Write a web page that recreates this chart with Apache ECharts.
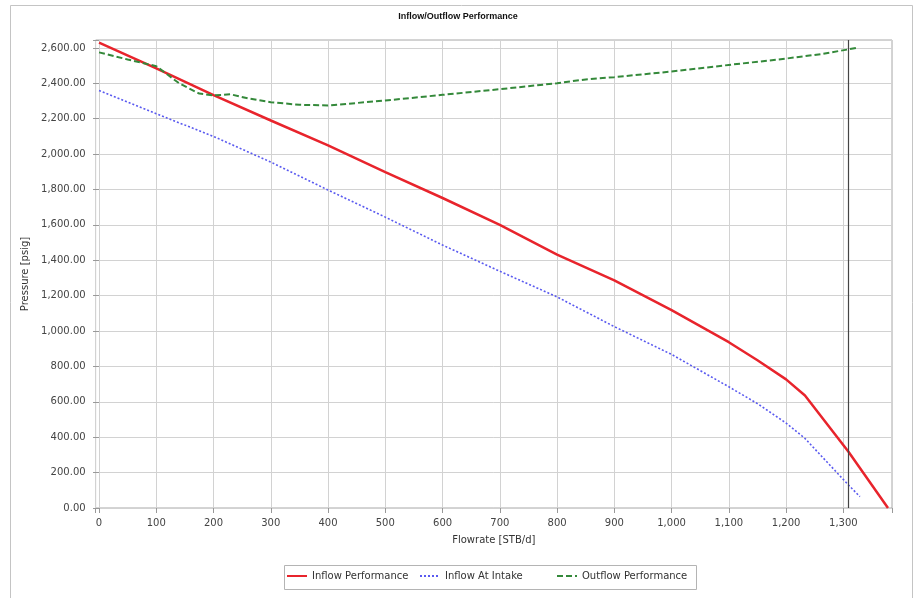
<!DOCTYPE html>
<html>
<head>
<meta charset="utf-8">
<script src="https://cdn.jsdelivr.net/npm/echarts@6/dist/echarts.min.js"></script>
<style>
  html, body { margin: 0; padding: 0; background: #ffffff; }
  #chart { width: 916px; height: 598px; }
</style>
</head>
<body>
<div id="chart"></div>
<script>
// Inflow performance (sandface), STB/d vs psig
const inflowRate     = [0, 100, 200, 300, 400, 500, 600, 700, 800, 900, 1000, 1100, 1150, 1200, 1233, 1309, 1378];
const inflowPressure = [2630, 2485, 2333, 2190, 2049, 1898, 1752, 1600, 1432, 1287, 1118, 937, 835, 727, 636, 318, 0];

// Inflow referred to pump intake
const intakeRate     = [0, 100, 200, 300, 400, 500, 600, 700, 800, 900, 1000, 1100, 1150, 1200, 1233, 1309, 1329];
const intakePressure = [2360, 2228, 2100, 1955, 1797, 1644, 1486, 1338, 1193, 1025, 868, 685, 590, 480, 393, 130, 64];

// Outflow (lift) performance
const outflowRate     = [0, 50, 100, 140, 175, 200, 230, 260, 300, 350, 400, 500, 600, 700, 800, 850, 900, 1000, 1100, 1200, 1260, 1309, 1322];
const outflowPressure = [2575, 2535, 2497, 2400, 2342, 2332, 2338, 2315, 2293, 2279, 2275, 2303, 2335, 2367, 2401, 2422, 2435, 2467, 2504, 2540, 2565, 2592, 2600];

// Operating point flowrate (vertical marker)
const operatingRate = [1309];

const seriesNames = ['Inflow Performance', 'Inflow At Intake', 'Outflow Performance'];
// left edge of each legend entry's line sample
const legendLefts = [286, 419, 556];

const pairs = (xs, ys) => xs.map((x, i) => [x, ys[i]]);
const FONT = 'DejaVu Sans';

const chart = echarts.init(document.getElementById('chart'), null, { renderer: 'canvas' });

chart.setOption({
  animation: false,
  backgroundColor: '#ffffff',
  title: {
    text: 'Inflow/Outflow Performance',
    left: 'center',
    top: 7,
    textStyle: { fontFamily: 'Liberation Sans', fontSize: 9, fontWeight: 'bold', color: '#111' }
  },
  graphic: [
    {
      type: 'rect', silent: true,
      shape: { x: 10.5, y: 5.5, width: 902, height: 600 },
      style: { fill: 'none', stroke: '#c4c4c4', lineWidth: 1 }
    },
    {
      type: 'rect', silent: true,
      shape: { x: 284.5, y: 565.5, width: 412, height: 24 },
      style: { fill: 'none', stroke: '#b4b4b4', lineWidth: 1 }
    }
  ],
  grid: {
    left: 95.6, right: 24, top: 40, bottom: 90,
    show: true, borderColor: '#a8a8a8', borderWidth: 1, backgroundColor: '#ffffff'
  },
  legend: seriesNames.map((name, i) => ({
    data: [name],
    left: legendLefts[i], top: 571,
    padding: 0,
    itemWidth: 20, itemHeight: 12,
    itemStyle: { opacity: 0 },
    textStyle: { fontFamily: FONT, fontSize: 10, color: '#333' }
  })),
  xAxis: {
    type: 'value',
    min: -6, max: 1385,
    splitNumber: 14, minInterval: 100, maxInterval: 100,
    name: 'Flowrate [STB/d]',
    nameLocation: 'middle', nameGap: 27,
    nameTextStyle: { fontFamily: FONT, fontSize: 10, color: '#333' },
    axisLine: { show: false },
    axisTick: { show: true, length: 5, lineStyle: { color: '#999' } },
    axisLabel: {
      fontFamily: FONT, fontSize: 10, color: '#444', margin: 10,
      formatter: v => {
        if (Math.abs(v % 100) > 1e-6 || v < -1e-6) return '';
        return Math.round(Math.abs(v)).toLocaleString('en-US');
      }
    },
    splitLine: { show: true, lineStyle: { color: '#d2d2d2', width: 1 } }
  },
  yAxis: {
    type: 'value',
    min: 0, max: 2645, interval: 200,
    name: 'Pressure [psig]',
    nameLocation: 'middle', nameGap: 59, nameRotate: 90,
    nameTextStyle: { fontFamily: FONT, fontSize: 10, color: '#333' },
    axisLine: { show: false },
    axisTick: { show: true, length: 6, lineStyle: { color: '#999' } },
    axisLabel: {
      fontFamily: FONT, fontSize: 10, color: '#444', margin: 10,
      formatter: v => {
        if (Math.abs(v % 200) > 1e-6) return '';
        return v.toLocaleString('en-US', { minimumFractionDigits: 2, maximumFractionDigits: 2 });
      }
    },
    splitLine: { show: true, lineStyle: { color: '#d2d2d2', width: 1 } }
  },
  series: [
    {
      name: seriesNames[0],
      type: 'line',
      data: pairs(inflowRate, inflowPressure),
      symbol: 'none', smooth: false, z: 4,
      color: '#e8242c',
      lineStyle: { color: '#e8242c', width: 2.5 }
    },
    {
      name: seriesNames[1],
      type: 'line',
      data: pairs(intakeRate, intakePressure),
      symbol: 'none', smooth: false, z: 3,
      color: '#5a5af0',
      lineStyle: { color: '#5a5af0', width: 1.6, type: [2, 2] }
    },
    {
      name: seriesNames[2],
      type: 'line',
      data: pairs(outflowRate, outflowPressure),
      symbol: 'none', smooth: false, z: 5,
      color: '#34893a',
      lineStyle: { color: '#34893a', width: 2, type: [6, 3] },
      markLine: {
        silent: true,
        symbol: 'none',
        label: { show: false },
        lineStyle: { color: '#444', width: 1.2, type: 'solid' },
        data: operatingRate.map(q => ({ xAxis: q }))
      }
    }
  ]
});
</script>
</body>
</html>
